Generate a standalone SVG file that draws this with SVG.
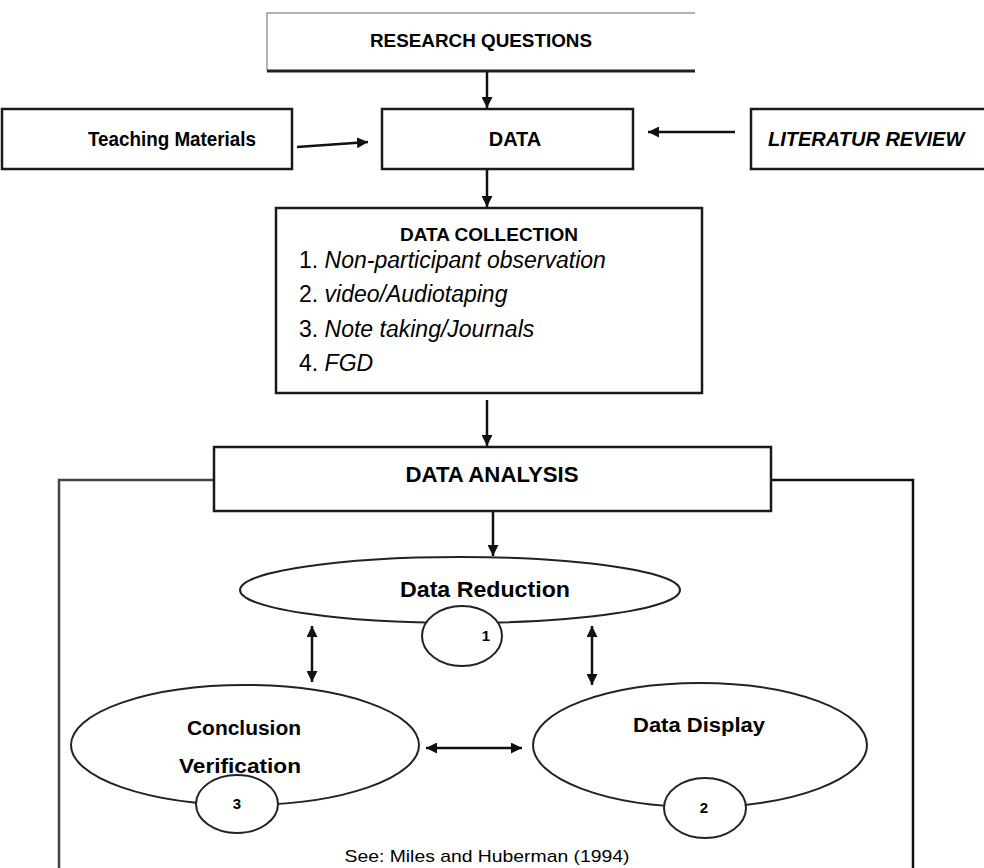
<svg xmlns="http://www.w3.org/2000/svg" width="984" height="868" viewBox="0 0 984 868">
<defs>
<marker id="ah" viewBox="0 0 10 10" refX="10" refY="5" markerWidth="11" markerHeight="11" markerUnits="userSpaceOnUse" orient="auto-start-reverse">
<path d="M0,0 L10,5 L0,10 z" fill="#111"/>
</marker>
<style>
text{font-family:"Liberation Sans",Arial,sans-serif;fill:#000}
.b{font-weight:bold}
.box{fill:#fff;stroke:#1a1a1a;stroke-width:2.5}
.ell{fill:#fff;stroke:#222;stroke-width:2}
.con{fill:none;stroke:#111;stroke-width:2.5}
.li{font-size:23px}
</style>
</defs>
<rect width="984" height="868" fill="#fff"/>

<g id="outer-frame">
<path d="M59,868 V480 H214" fill="none" stroke="#444" stroke-width="2.5"/>
<path d="M771,480 H913 V868" fill="none" stroke="#111" stroke-width="2.5"/>
</g>

<g id="research-questions">
<path d="M695,13 H267 V71" fill="none" stroke="#999" stroke-width="1.5"/>
<path d="M267,71 H695" fill="none" stroke="#222" stroke-width="3"/>
<text x="481" y="47" class="b" font-size="18" text-anchor="middle" textLength="222" lengthAdjust="spacingAndGlyphs">RESEARCH QUESTIONS</text>
</g>

<g id="teaching-materials">
<rect class="box" x="2" y="109" width="290" height="60"/>
<text x="172" y="146" class="b" font-size="20" text-anchor="middle" textLength="168" lengthAdjust="spacingAndGlyphs">Teaching Materials</text>
</g>

<g id="data">
<rect class="box" x="382" y="109" width="251" height="60"/>
<text x="515" y="146" class="b" font-size="20" text-anchor="middle">DATA</text>
</g>

<g id="literatur-review">
<rect class="box" x="751" y="109" width="240" height="60"/>
<text x="768" y="146" class="b" font-size="20" font-style="italic">LITERATUR REVIEW</text>
</g>

<g id="data-collection">
<rect class="box" x="276" y="208" width="426" height="185"/>
<text x="489" y="241" class="b" font-size="19" text-anchor="middle">DATA COLLECTION</text>
<text x="299" y="268" class="li">1. <tspan font-style="italic">Non-participant observation</tspan></text>
<text x="299" y="302" class="li">2. <tspan font-style="italic">video/Audiotaping</tspan></text>
<text x="299" y="337" class="li">3. <tspan font-style="italic">Note taking/Journals</tspan></text>
<text x="299" y="371" class="li">4. <tspan font-style="italic">FGD</tspan></text>
</g>

<g id="data-analysis">
<rect class="box" x="214" y="447" width="557" height="64"/>
<text x="492" y="482" class="b" font-size="22" text-anchor="middle" textLength="173" lengthAdjust="spacingAndGlyphs">DATA ANALYSIS</text>
</g>

<g id="data-reduction">
<ellipse class="ell" cx="460" cy="590" rx="220" ry="33"/>
<ellipse class="ell" cx="462" cy="636" rx="40" ry="30"/>
<text x="485" y="597" class="b" font-size="22" text-anchor="middle" textLength="170" lengthAdjust="spacingAndGlyphs">Data Reduction</text>
<text x="486" y="641" class="b" font-size="15" text-anchor="middle">1</text>
</g>

<g id="conclusion-verification">
<ellipse class="ell" cx="245" cy="745" rx="174" ry="60"/>
<ellipse class="ell" cx="237" cy="804" rx="41" ry="29"/>
<text x="244" y="735" class="b" font-size="20" text-anchor="middle" textLength="114" lengthAdjust="spacingAndGlyphs">Conclusion</text>
<text x="240" y="773" class="b" font-size="20" text-anchor="middle" textLength="122" lengthAdjust="spacingAndGlyphs">Verification</text>
<text x="237" y="809" class="b" font-size="15" text-anchor="middle">3</text>
</g>

<g id="data-display">
<ellipse class="ell" cx="700" cy="745" rx="167" ry="62"/>
<ellipse class="ell" cx="705" cy="808" rx="41" ry="30"/>
<text x="699" y="732" class="b" font-size="20" text-anchor="middle" textLength="132" lengthAdjust="spacingAndGlyphs">Data Display</text>
<text x="704" y="813" class="b" font-size="15" text-anchor="middle">2</text>
</g>

<g id="source-note">
<text x="487" y="862" font-size="17" text-anchor="middle" textLength="285" lengthAdjust="spacingAndGlyphs">See: Miles and Huberman (1994)</text>
</g>

<g id="connectors">
<line class="con" x1="487" y1="72" x2="487" y2="108" marker-end="url(#ah)"/>
<line class="con" x1="297" y1="147" x2="368" y2="142" marker-end="url(#ah)"/>
<line class="con" x1="735" y1="132" x2="648" y2="132" marker-end="url(#ah)"/>
<line class="con" x1="487" y1="170" x2="487" y2="207" marker-end="url(#ah)"/>
<line class="con" x1="487" y1="400" x2="487" y2="446" marker-end="url(#ah)"/>
<line class="con" x1="493" y1="512" x2="493" y2="556" marker-end="url(#ah)"/>
<line class="con" x1="312" y1="626" x2="312" y2="682" marker-start="url(#ah)" marker-end="url(#ah)"/>
<line class="con" x1="592" y1="626" x2="592" y2="685" marker-start="url(#ah)" marker-end="url(#ah)"/>
<line class="con" x1="426" y1="748" x2="522" y2="748" marker-start="url(#ah)" marker-end="url(#ah)"/>
</g>
</svg>
